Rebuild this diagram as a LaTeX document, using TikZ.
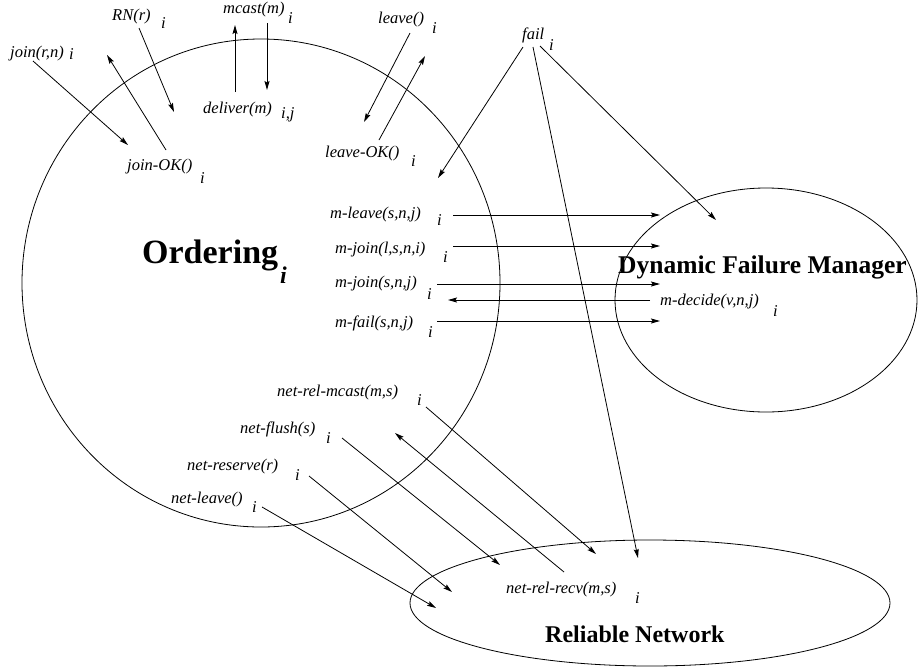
\documentclass[tikz,border=0pt]{standalone}
\usepackage{fontspec}
\setmainfont{Liberation Serif}
\usetikzlibrary{arrows.meta,shapes.geometric}
\begin{document}
\begin{tikzpicture}[x=1pt,y=-1pt,
  lab/.style={font=\fontsize{16.5}{18}\selectfont\itshape, anchor=base west, inner sep=0pt},
  sublab/.style={lab},
  big/.style={font=\fontsize{#1}{#1}\selectfont\bfseries, anchor=base west, inner sep=0pt},
  arr/.style={line width=0.8pt, -{Stealth[length=9pt,width=5pt,inset=1.5pt]}},
  proc/.style={draw, line width=0.8pt, ellipse, inner sep=0pt}
]
\useasboundingbox (0,0) rectangle (919,670);

% components
\node[proc, minimum width=478pt, minimum height=488pt] (ord) at (261,283) {};
\node[proc, minimum width=302pt, minimum height=224pt] (dfm) at (766,300) {};
\node[proc, minimum width=480pt, minimum height=126pt] (net) at (650,603) {};

\node[big=34] (ordt) at (142,263) {Ordering};
\node[font=\fontsize{24}{24}\selectfont\bfseries\itshape, anchor=base west, inner sep=0pt] (ordi) at (280,283) {i};
\node[big=25.5] (dfmt) at (618,273) {Dynamic Failure Manager};
\node[big=24] (nett) at (545,642) {Reliable Network};

% labels
\node[lab] (l1) at (10,57) {join(r,n)};      \node[sublab] (s1) at (69,59) {i};
\node[lab] (l2) at (112,20) {RN(r)};         \node[sublab] (s2) at (161,28) {i};
\node[lab] (l3) at (223,13) {mcast(m)};      \node[sublab] (s3) at (288,23) {i};
\node[lab] (l4) at (203,113) {deliver(m)};   \node[sublab] (s4) at (281,118) {i,j};
\node[lab] (l5) at (378,23) {leave()};       \node[sublab] (s5) at (432,33) {i};
\node[lab] (l6) at (325,157) {leave-OK()};   \node[sublab] (s6) at (411,166) {i};
\node[lab] (l7) at (127,170) {join-OK()};    \node[sublab] (s7) at (200,183) {i};
\node[lab] (l8) at (522,39) {fail};          \node[sublab] (s8) at (549,50) {i};
\node[lab] (l9) at (330,218) {m-leave(s,n,j)};   \node[sublab] (s9) at (437,225) {i};
\node[lab] (l10) at (335,253) {m-join(l,s,n,i)}; \node[sublab] (s10) at (443,262) {i};
\node[lab] (l11) at (335,287) {m-join(s,n,j)};   \node[sublab] (s11) at (427,299) {i};
\node[lab] (l12) at (660,305) {m-decide(v,n,j)}; \node[sublab] (s12) at (773,316) {i};
\node[lab] (l13) at (335,327) {m-fail(s,n,j)};   \node[sublab] (s13) at (428,337) {i};
\node[lab] (l14) at (277,396) {net-rel-mcast(m,s)}; \node[sublab] (s14) at (417,405) {i};
\node[lab] (l15) at (240,433) {net-flush(s)};    \node[sublab] (s15) at (326,443) {i};
\node[lab] (l16) at (187,470) {net-reserve(r)};  \node[sublab] (s16) at (295,480) {i};
\node[lab] (l17) at (171,503) {net-leave()};     \node[sublab] (s17) at (252,512) {i};
\node[lab] (l18) at (506,593) {net-rel-recv(m,s)}; \node[sublab] (s18) at (635,603) {i};

% arrow end points
\coordinate (join-a) at (33,61);   \coordinate (join-b) at (128,145);
\coordinate (jok-a) at (166,150);  \coordinate (jok-b) at (107,55);
\coordinate (rn-a) at (139,28);    \coordinate (rn-b) at (174,112);
\coordinate (mc-a) at (235,92);    \coordinate (mc-b) at (235,25);
\coordinate (dl-a) at (267,23);    \coordinate (dl-b) at (267,90);
\coordinate (lv-a) at (410,33);    \coordinate (lv-b) at (364,122);
\coordinate (lok-a) at (379,140);  \coordinate (lok-b) at (425,56);
\coordinate (f1-a) at (523,47);    \coordinate (f1-b) at (438,178);
\coordinate (f2-a) at (533,47);    \coordinate (f2-b) at (638,558);
\coordinate (f3-a) at (540,46);    \coordinate (f3-b) at (716,220);
\coordinate (ml-a) at (453,215);   \coordinate (ml-b) at (660,215);
\coordinate (mjl-a) at (453,246);  \coordinate (mjl-b) at (660,246);
\coordinate (mjs-a) at (437,284);  \coordinate (mjs-b) at (660,284);
\coordinate (md-a) at (650,300);   \coordinate (md-b) at (448,300);
\coordinate (mf-a) at (437,321);   \coordinate (mf-b) at (660,321);
\coordinate (nrm-a) at (426,407);  \coordinate (nrm-b) at (596,554);
\coordinate (nf-a) at (342,438);   \coordinate (nf-b) at (500,565);
\coordinate (nrr-a) at (564,572);  \coordinate (nrr-b) at (395,433);
\coordinate (nr-a) at (309,476);   \coordinate (nr-b) at (452,592);
\coordinate (nl-a) at (262,507);   \coordinate (nl-b) at (436,608);

\foreach \n in {join,jok,rn,mc,dl,lv,lok,f1,f2,f3,ml,mjl,mjs,md,mf,nrm,nf,nrr,nr,nl}
  \draw[arr] (\n-a) -- (\n-b);
\end{tikzpicture}
\end{document}
